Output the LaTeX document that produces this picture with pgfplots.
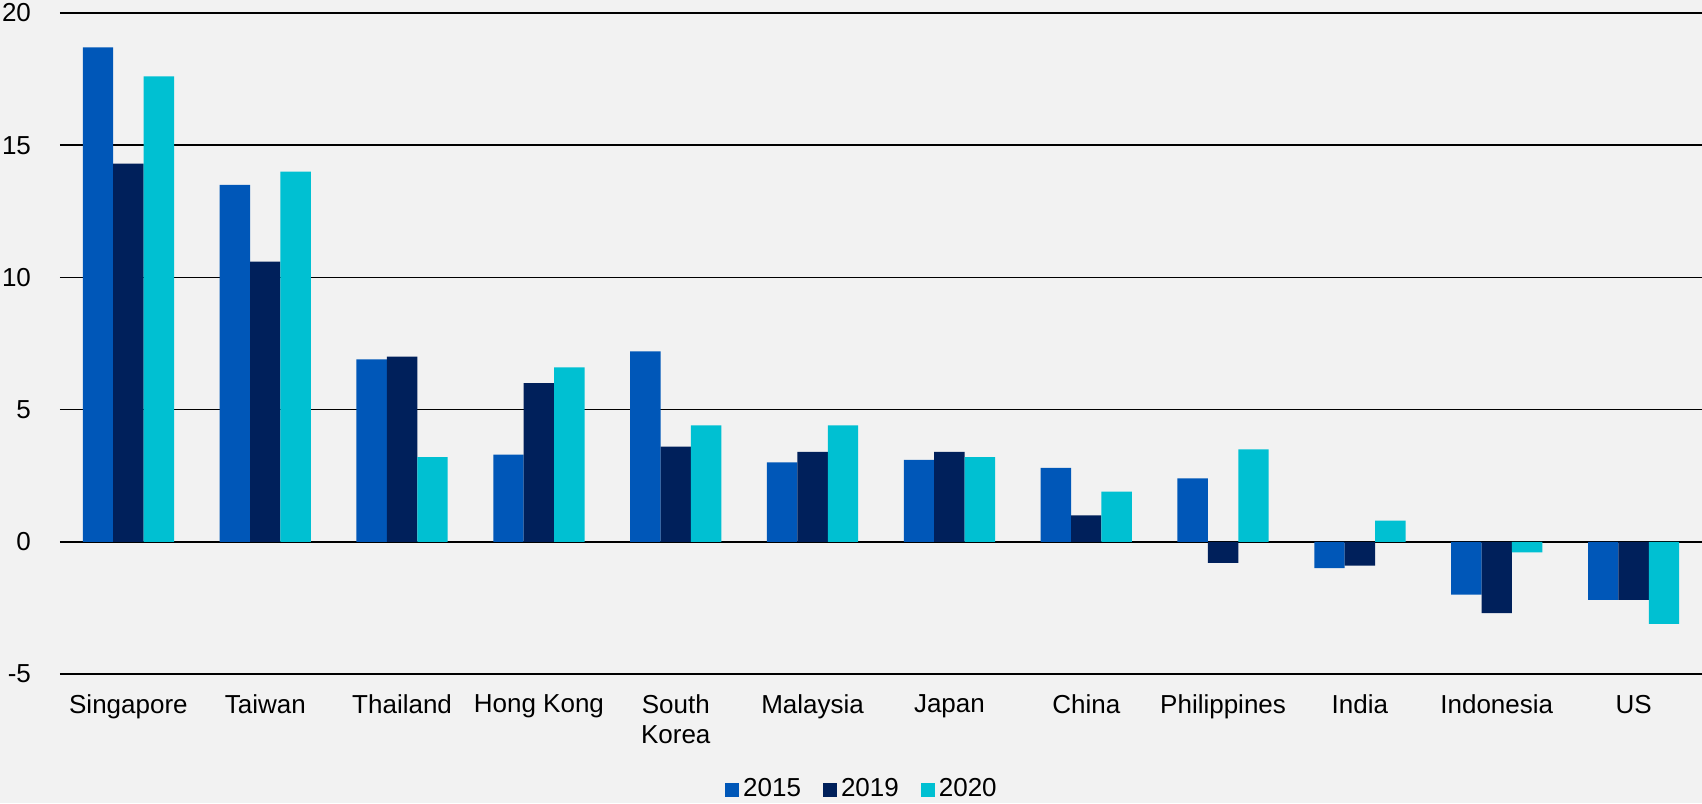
\documentclass[border=0pt]{standalone}
\usepackage{fontspec}
\setmainfont{Liberation Sans}
\usepackage{pgfplots}
\pgfplotsset{compat=1.18}
\definecolor{bg}{HTML}{F2F2F2}
\definecolor{cA}{HTML}{0057B8}
\definecolor{cB}{HTML}{00205B}
\definecolor{cC}{HTML}{00C0D2}
\begin{document}
\fontsize{13}{15.6}\selectfont
\begin{tikzpicture}
\path[use as bounding box, fill=bg] (-30pt,-64.5pt) rectangle (821pt,337pt);
\begin{axis}[
  scale only axis, width=821pt, height=330.5pt,
  anchor=south west, at={(0pt,0pt)},
  ymin=-5, ymax=20, ytick={-5,0,5,10,15,20},
  xmin=-0.5, xmax=11.5, xtick={0,...,11},
  xticklabels={Singapore,Taiwan,Thailand,Hong Kong,{South\\Korea},Malaysia,Japan,China,Philippines,India,Indonesia,US},
  xticklabel style={align=center, anchor=north, yshift=-6pt, font=\fontsize{13}{15}\selectfont},
  yticklabel style={anchor=east, xshift=-10pt, font=\fontsize{13}{15}\selectfont},
  /pgf/number format/assume math mode=true,
  major tick length=0pt,
  axis line style={draw=none},
  ymajorgrids, grid style={black, line width=0.75pt},
  ybar=0pt, bar width=15.2pt,
  legend style={at={(0.489,-0.175)}, anchor=center, legend columns=-1, draw=none, fill=none,
    font=\fontsize{13}{15}\selectfont, /tikz/every even column/.append style={column sep=9pt}},
  legend image code/.code={\fill[#1] (0pt,-3.5pt) rectangle (7pt,3.5pt);},
]
\addplot[fill=cA, draw=none] coordinates {(0,18.7) (1,13.5) (2,6.9) (3,3.3) (4,7.2) (5,3.0) (6,3.1) (7,2.8) (8,2.4) (9,-1.0) (10,-2.0) (11,-2.2)};
\addplot[fill=cB, draw=none] coordinates {(0,14.3) (1,10.6) (2,7.0) (3,6.0) (4,3.6) (5,3.4) (6,3.4) (7,1.0) (8,-0.8) (9,-0.9) (10,-2.7) (11,-2.2)};
\addplot[fill=cC, draw=none] coordinates {(0,17.6) (1,14.0) (2,3.2) (3,6.6) (4,4.4) (5,4.4) (6,3.2) (7,1.9) (8,3.5) (9,0.8) (10,-0.4) (11,-3.1)};
\legend{2015,2019,2020}
\end{axis}
\end{tikzpicture}
\end{document}
